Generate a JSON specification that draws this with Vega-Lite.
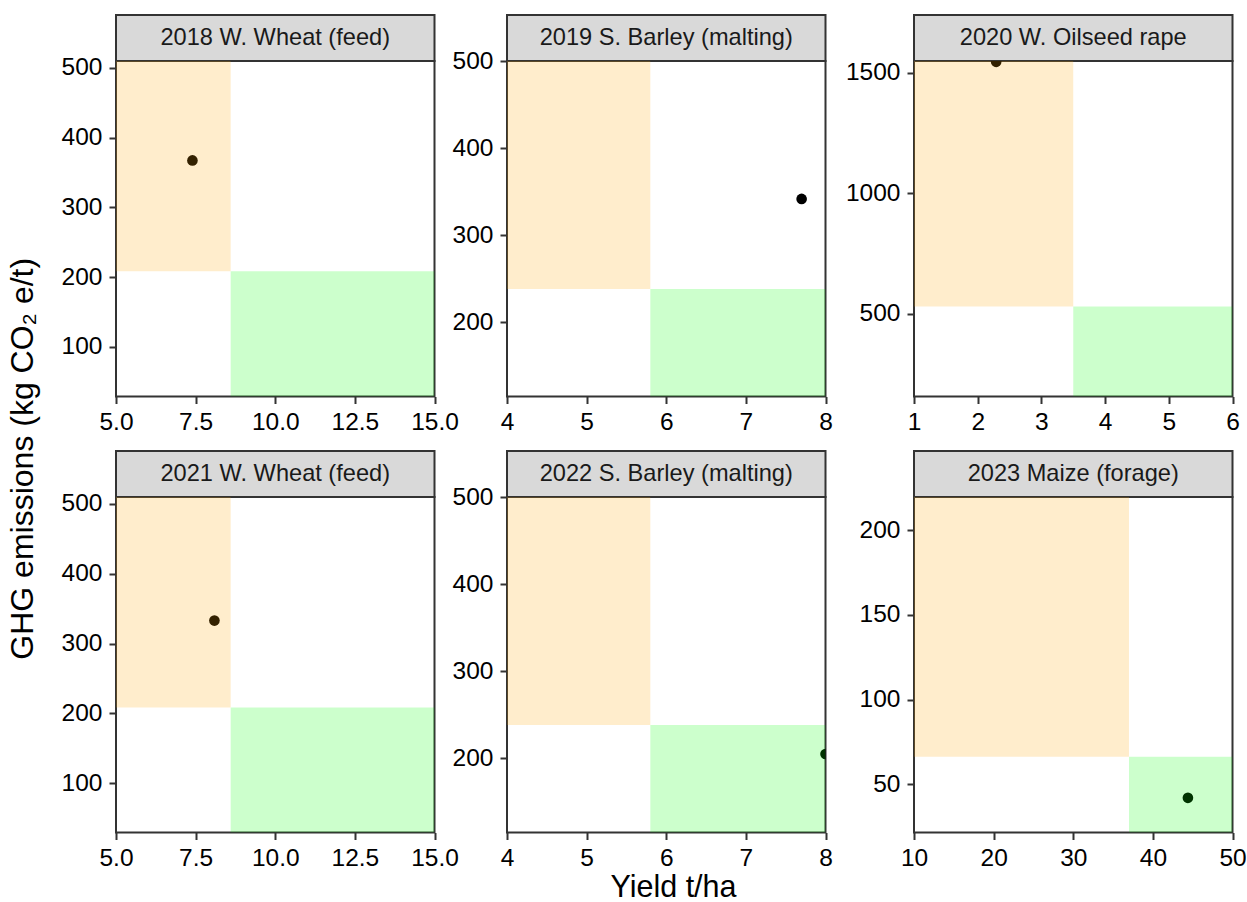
{
  "$schema": "https://vega.github.io/schema/vega-lite/v6.json",
  "padding": {"left": 6, "top": 14, "right": 0, "bottom": 0},
  "title": {
    "text": "GHG emissions (kg CO₂ e/t)",
    "orient": "left",
    "anchor": "middle",
    "offset": 19,
    "fontSize": 32,
    "fontWeight": "normal",
    "font": "Liberation Sans",
    "color": "#000000"
  },
  "datasets": {
    "crops": [
      {"panel": "2018 W. Wheat (feed)", "yield": 7.4, "ghg": 367.5},
      {"panel": "2019 S. Barley (malting)", "yield": 7.7, "ghg": 341.6},
      {"panel": "2020 W. Oilseed rape", "yield": 2.29, "ghg": 1545},
      {"panel": "2021 W. Wheat (feed)", "yield": 8.09, "ghg": 332.8},
      {"panel": "2022 S. Barley (malting)", "yield": 8.0, "ghg": 204.6},
      {"panel": "2023 Maize (forage)", "yield": 44.4, "ghg": 41.9}
    ],
    "zones": [
      {"panel": "2018 W. Wheat (feed)", "zone": "below target yield", "x_start": 5, "x_end": 8.6, "ghg_start": 208.5, "ghg_end": 510},
      {"panel": "2018 W. Wheat (feed)", "zone": "on target", "x_start": 8.6, "x_end": 15, "ghg_start": 29, "ghg_end": 208.5},
      {"panel": "2019 S. Barley (malting)", "zone": "below target yield", "x_start": 4, "x_end": 5.8, "ghg_start": 238, "ghg_end": 500},
      {"panel": "2019 S. Barley (malting)", "zone": "on target", "x_start": 5.8, "x_end": 8, "ghg_start": 114.6, "ghg_end": 238},
      {"panel": "2020 W. Oilseed rape", "zone": "below target yield", "x_start": 1, "x_end": 3.5, "ghg_start": 530, "ghg_end": 1548.5},
      {"panel": "2020 W. Oilseed rape", "zone": "on target", "x_start": 3.5, "x_end": 6, "ghg_start": 157, "ghg_end": 530},
      {"panel": "2021 W. Wheat (feed)", "zone": "below target yield", "x_start": 5, "x_end": 8.6, "ghg_start": 208.5, "ghg_end": 509.5},
      {"panel": "2021 W. Wheat (feed)", "zone": "on target", "x_start": 8.6, "x_end": 15, "ghg_start": 29.8, "ghg_end": 208.5},
      {"panel": "2022 S. Barley (malting)", "zone": "below target yield", "x_start": 4, "x_end": 5.8, "ghg_start": 238, "ghg_end": 500},
      {"panel": "2022 S. Barley (malting)", "zone": "on target", "x_start": 5.8, "x_end": 8, "ghg_start": 114.4, "ghg_end": 238},
      {"panel": "2023 Maize (forage)", "zone": "below target yield", "x_start": 10, "x_end": 37, "ghg_start": 66.2, "ghg_end": 219.7},
      {"panel": "2023 Maize (forage)", "zone": "on target", "x_start": 37, "x_end": 50, "ghg_start": 21.4, "ghg_end": 66.2}
    ]
  },
  "spacing": 15,
  "vconcat": [
    {
      "spacing": -10,
      "hconcat": [
        {
          "bounds": "flush", "spacing": 0,
          "vconcat": [
            {"width": 318.5, "height": 46, "view": {"fill": "#d9d9d9", "stroke": "#333333", "strokeWidth": 2},
             "data": {"name": "crops"}, "transform": [{"filter": "datum.panel === '2018 W. Wheat (feed)'"}],
             "mark": {"type": "text", "fontSize": 23.6, "color": "#1a1a1a", "baseline": "middle", "align": "center"},
             "encoding": {"text": {"field": "panel"}}},
            {"width": 318.5, "height": 335.5, "view": {"stroke": "#333333", "strokeWidth": 2},
             "layer": [
               {"data": {"name": "crops"}, "transform": [{"filter": "datum.panel === '2018 W. Wheat (feed)'"}],
                "mark": {"type": "circle", "size": 113, "color": "#000000", "opacity": 1, "clip": true},
                "encoding": {
                  "x": {"field": "yield", "type": "quantitative", "title": null, "scale": {"domain": [5, 15], "nice": false, "zero": false}, "axis": {"values": [5, 7.5, 10, 12.5, 15], "format": ".1f"}},
                  "y": {"field": "ghg", "type": "quantitative", "title": null, "scale": {"domain": [29, 510], "nice": false, "zero": false}, "axis": {"values": [100, 200, 300, 400, 500], "format": "d", "minExtent": 56}}}},
               {"data": {"name": "zones"}, "transform": [{"filter": "datum.panel === '2018 W. Wheat (feed)'"}],
                "mark": {"type": "rect", "opacity": 0.2, "clip": true},
                "encoding": {
                  "x": {"field": "x_start", "type": "quantitative", "title": null}, "x2": {"field": "x_end"},
                  "y": {"field": "ghg_start", "type": "quantitative", "title": null}, "y2": {"field": "ghg_end"},
                  "color": {"field": "zone", "type": "nominal", "scale": {"domain": ["below target yield", "on target"], "range": ["#ffa500", "#00ff00"]}, "legend": null}}}
             ]}
          ]
        },
        {
          "bounds": "flush", "spacing": 0,
          "vconcat": [
            {"width": 318.5, "height": 46, "view": {"fill": "#d9d9d9", "stroke": "#333333", "strokeWidth": 2},
             "data": {"name": "crops"}, "transform": [{"filter": "datum.panel === '2019 S. Barley (malting)'"}],
             "mark": {"type": "text", "fontSize": 23.6, "color": "#1a1a1a", "baseline": "middle", "align": "center"},
             "encoding": {"text": {"field": "panel"}}},
            {"width": 318.5, "height": 335.5, "view": {"stroke": "#333333", "strokeWidth": 2},
             "layer": [
               {"data": {"name": "crops"}, "transform": [{"filter": "datum.panel === '2019 S. Barley (malting)'"}],
                "mark": {"type": "circle", "size": 113, "color": "#000000", "opacity": 1, "clip": true},
                "encoding": {
                  "x": {"field": "yield", "type": "quantitative", "title": null, "scale": {"domain": [4, 8], "nice": false, "zero": false}, "axis": {"values": [4, 5, 6, 7, 8], "format": "d"}},
                  "y": {"field": "ghg", "type": "quantitative", "title": null, "scale": {"domain": [114.6, 500], "nice": false, "zero": false}, "axis": {"values": [200, 300, 400, 500], "format": "d", "minExtent": 56}}}},
               {"data": {"name": "zones"}, "transform": [{"filter": "datum.panel === '2019 S. Barley (malting)'"}],
                "mark": {"type": "rect", "opacity": 0.2, "clip": true},
                "encoding": {
                  "x": {"field": "x_start", "type": "quantitative", "title": null}, "x2": {"field": "x_end"},
                  "y": {"field": "ghg_start", "type": "quantitative", "title": null}, "y2": {"field": "ghg_end"},
                  "color": {"field": "zone", "type": "nominal", "scale": {"domain": ["below target yield", "on target"], "range": ["#ffa500", "#00ff00"]}, "legend": null}}}
             ]}
          ]
        },
        {
          "bounds": "flush", "spacing": 0,
          "vconcat": [
            {"width": 318.5, "height": 46, "view": {"fill": "#d9d9d9", "stroke": "#333333", "strokeWidth": 2},
             "data": {"name": "crops"}, "transform": [{"filter": "datum.panel === '2020 W. Oilseed rape'"}],
             "mark": {"type": "text", "fontSize": 23.6, "color": "#1a1a1a", "baseline": "middle", "align": "center"},
             "encoding": {"text": {"field": "panel"}}},
            {"width": 318.5, "height": 335.5, "view": {"stroke": "#333333", "strokeWidth": 2},
             "layer": [
               {"data": {"name": "crops"}, "transform": [{"filter": "datum.panel === '2020 W. Oilseed rape'"}],
                "mark": {"type": "circle", "size": 113, "color": "#000000", "opacity": 1, "clip": true},
                "encoding": {
                  "x": {"field": "yield", "type": "quantitative", "title": null, "scale": {"domain": [1, 6], "nice": false, "zero": false}, "axis": {"values": [1, 2, 3, 4, 5, 6], "format": "d"}},
                  "y": {"field": "ghg", "type": "quantitative", "title": null, "scale": {"domain": [157, 1548.5], "nice": false, "zero": false}, "axis": {"values": [500, 1000, 1500], "format": "d", "minExtent": 89}}}},
               {"data": {"name": "zones"}, "transform": [{"filter": "datum.panel === '2020 W. Oilseed rape'"}],
                "mark": {"type": "rect", "opacity": 0.2, "clip": true},
                "encoding": {
                  "x": {"field": "x_start", "type": "quantitative", "title": null}, "x2": {"field": "x_end"},
                  "y": {"field": "ghg_start", "type": "quantitative", "title": null}, "y2": {"field": "ghg_end"},
                  "color": {"field": "zone", "type": "nominal", "scale": {"domain": ["below target yield", "on target"], "range": ["#ffa500", "#00ff00"]}, "legend": null}}}
             ]}
          ]
        }
      ]
    },
    {
      "spacing": -10,
      "hconcat": [
        {
          "bounds": "flush", "spacing": 0,
          "vconcat": [
            {"width": 318.5, "height": 46, "view": {"fill": "#d9d9d9", "stroke": "#333333", "strokeWidth": 2},
             "data": {"name": "crops"}, "transform": [{"filter": "datum.panel === '2021 W. Wheat (feed)'"}],
             "mark": {"type": "text", "fontSize": 23.6, "color": "#1a1a1a", "baseline": "middle", "align": "center"},
             "encoding": {"text": {"field": "panel"}}},
            {"width": 318.5, "height": 335.5, "view": {"stroke": "#333333", "strokeWidth": 2},
             "layer": [
               {"data": {"name": "crops"}, "transform": [{"filter": "datum.panel === '2021 W. Wheat (feed)'"}],
                "mark": {"type": "circle", "size": 113, "color": "#000000", "opacity": 1, "clip": true},
                "encoding": {
                  "x": {"field": "yield", "type": "quantitative", "title": null, "scale": {"domain": [5, 15], "nice": false, "zero": false}, "axis": {"values": [5, 7.5, 10, 12.5, 15], "format": ".1f"}},
                  "y": {"field": "ghg", "type": "quantitative", "title": null, "scale": {"domain": [29.8, 509.5], "nice": false, "zero": false}, "axis": {"values": [100, 200, 300, 400, 500], "format": "d", "minExtent": 56}}}},
               {"data": {"name": "zones"}, "transform": [{"filter": "datum.panel === '2021 W. Wheat (feed)'"}],
                "mark": {"type": "rect", "opacity": 0.2, "clip": true},
                "encoding": {
                  "x": {"field": "x_start", "type": "quantitative", "title": null}, "x2": {"field": "x_end"},
                  "y": {"field": "ghg_start", "type": "quantitative", "title": null}, "y2": {"field": "ghg_end"},
                  "color": {"field": "zone", "type": "nominal", "scale": {"domain": ["below target yield", "on target"], "range": ["#ffa500", "#00ff00"]}, "legend": null}}}
             ]}
          ]
        },
        {
          "bounds": "flush", "spacing": 0,
          "vconcat": [
            {"width": 318.5, "height": 46, "view": {"fill": "#d9d9d9", "stroke": "#333333", "strokeWidth": 2},
             "data": {"name": "crops"}, "transform": [{"filter": "datum.panel === '2022 S. Barley (malting)'"}],
             "mark": {"type": "text", "fontSize": 23.6, "color": "#1a1a1a", "baseline": "middle", "align": "center"},
             "encoding": {"text": {"field": "panel"}}},
            {"width": 318.5, "height": 335.5, "view": {"stroke": "#333333", "strokeWidth": 2},
             "layer": [
               {"data": {"name": "crops"}, "transform": [{"filter": "datum.panel === '2022 S. Barley (malting)'"}],
                "mark": {"type": "circle", "size": 113, "color": "#000000", "opacity": 1, "clip": true},
                "encoding": {
                  "x": {"field": "yield", "type": "quantitative", "title": "Yield t/ha", "scale": {"domain": [4, 8], "nice": false, "zero": false}, "axis": {"values": [4, 5, 6, 7, 8], "format": "d", "title": "Yield t/ha", "titleX": 166, "titlePadding": 2}},
                  "y": {"field": "ghg", "type": "quantitative", "title": null, "scale": {"domain": [114.4, 500], "nice": false, "zero": false}, "axis": {"values": [200, 300, 400, 500], "format": "d", "minExtent": 56}}}},
               {"data": {"name": "zones"}, "transform": [{"filter": "datum.panel === '2022 S. Barley (malting)'"}],
                "mark": {"type": "rect", "opacity": 0.2, "clip": true},
                "encoding": {
                  "x": {"field": "x_start", "type": "quantitative", "title": "Yield t/ha"}, "x2": {"field": "x_end"},
                  "y": {"field": "ghg_start", "type": "quantitative", "title": null}, "y2": {"field": "ghg_end"},
                  "color": {"field": "zone", "type": "nominal", "scale": {"domain": ["below target yield", "on target"], "range": ["#ffa500", "#00ff00"]}, "legend": null}}}
             ]}
          ]
        },
        {
          "bounds": "flush", "spacing": 0,
          "vconcat": [
            {"width": 318.5, "height": 46, "view": {"fill": "#d9d9d9", "stroke": "#333333", "strokeWidth": 2},
             "data": {"name": "crops"}, "transform": [{"filter": "datum.panel === '2023 Maize (forage)'"}],
             "mark": {"type": "text", "fontSize": 23.6, "color": "#1a1a1a", "baseline": "middle", "align": "center"},
             "encoding": {"text": {"field": "panel"}}},
            {"width": 318.5, "height": 335.5, "view": {"stroke": "#333333", "strokeWidth": 2},
             "layer": [
               {"data": {"name": "crops"}, "transform": [{"filter": "datum.panel === '2023 Maize (forage)'"}],
                "mark": {"type": "circle", "size": 113, "color": "#000000", "opacity": 1, "clip": true},
                "encoding": {
                  "x": {"field": "yield", "type": "quantitative", "title": null, "scale": {"domain": [10, 50], "nice": false, "zero": false}, "axis": {"values": [10, 20, 30, 40, 50], "format": "d"}},
                  "y": {"field": "ghg", "type": "quantitative", "title": null, "scale": {"domain": [21.4, 219.7], "nice": false, "zero": false}, "axis": {"values": [50, 100, 150, 200], "format": "d", "minExtent": 89}}}},
               {"data": {"name": "zones"}, "transform": [{"filter": "datum.panel === '2023 Maize (forage)'"}],
                "mark": {"type": "rect", "opacity": 0.2, "clip": true},
                "encoding": {
                  "x": {"field": "x_start", "type": "quantitative", "title": null}, "x2": {"field": "x_end"},
                  "y": {"field": "ghg_start", "type": "quantitative", "title": null}, "y2": {"field": "ghg_end"},
                  "color": {"field": "zone", "type": "nominal", "scale": {"domain": ["below target yield", "on target"], "range": ["#ffa500", "#00ff00"]}, "legend": null}}}
             ]}
          ]
        }
      ]
    }
  ],
  "config": {
    "font": "Liberation Sans",
    "view": {"stroke": null},
    "axis": {
      "domain": false,
      "grid": false,
      "ticks": true,
      "tickColor": "#333333",
      "tickWidth": 2,
      "tickSize": 7,
      "labelFont": "Liberation Sans",
      "labelFontSize": 24.5,
      "labelColor": "#000000",
      "labelPadding": 7,
      "labelFlush": false,
      "labelOverlap": false,
      "titleFont": "Liberation Sans",
      "titleFontSize": 30.5,
      "titleFontWeight": "normal",
      "titleColor": "#000000"
    }
  }
}
